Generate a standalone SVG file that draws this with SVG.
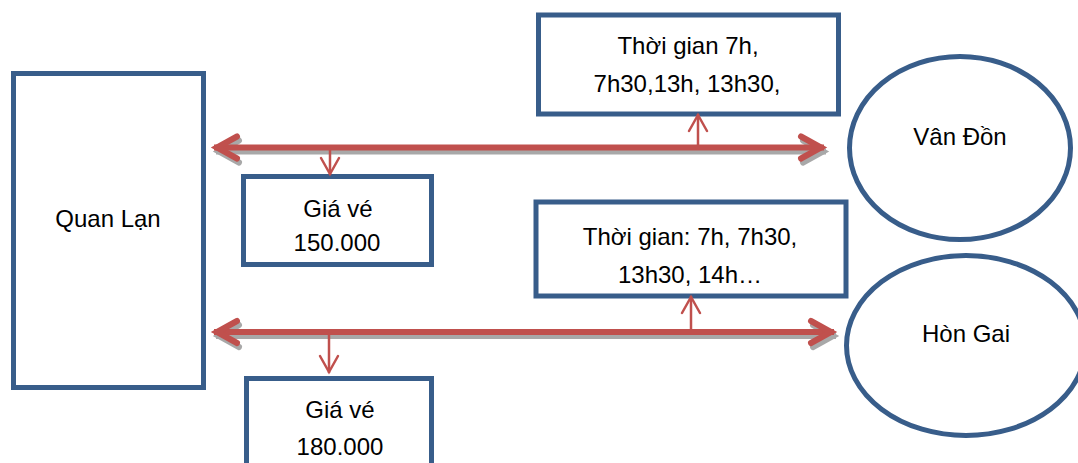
<svg xmlns="http://www.w3.org/2000/svg" width="1078" height="463" viewBox="0 0 1078 463">
<style>
.box{fill:#fff;stroke:#385D8A;stroke-width:5}
.t{font-family:"Liberation Sans",Arial,sans-serif;font-size:24px;fill:#000;text-anchor:middle}
.main{stroke:#C0504D;stroke-width:6;fill:none;marker-start:url(#hr);marker-end:url(#hr)}
.shadow{stroke:#9a9a9a;stroke-width:6;fill:none;marker-start:url(#hg);marker-end:url(#hg);opacity:.85}
.thin{stroke:#C0504D;stroke-width:2.5;fill:none;marker-end:url(#ht)}
</style>
<defs>
<marker id="hr" viewBox="-28 -16 36 32" markerWidth="36" markerHeight="32" refX="0" refY="0" orient="auto-start-reverse" markerUnits="userSpaceOnUse">
<path d="M-23,-11 L-3,0 L-23,11" stroke="#C0504D" stroke-width="6" fill="none" stroke-linecap="round"/>
</marker>
<marker id="hg" viewBox="-28 -16 36 32" markerWidth="36" markerHeight="32" refX="0" refY="0" orient="auto-start-reverse" markerUnits="userSpaceOnUse">
<path d="M-23,-11 L-3,0 L-23,11" stroke="#9a9a9a" stroke-width="6" fill="none" stroke-linecap="round"/>
</marker>
<marker id="ht" viewBox="-20 -12 24 24" markerWidth="24" markerHeight="24" refX="0" refY="0" orient="auto" markerUnits="userSpaceOnUse">
<path d="M-17,-9 L-1,0 L-17,9" stroke="#C0504D" stroke-width="2.5" fill="none" stroke-linecap="round"/>
</marker>
</defs>
<g id="quan-lan">
<rect class="box" x="13.5" y="73.5" width="190" height="314"/>
<text class="t" x="108" y="227">Quan Lạn</text>
</g>
<g id="van-don">
<ellipse class="box" cx="960" cy="148" rx="110.5" ry="91.5"/>
<text class="t" x="960" y="145">Vân Đồn</text>
</g>
<g id="hon-gai">
<ellipse class="box" cx="966" cy="345.5" rx="119.5" ry="90"/>
<text class="t" x="966" y="342">Hòn Gai</text>
</g>
<g id="time-van-don">
<rect class="box" x="538.5" y="15" width="300" height="99"/>
<text class="t" x="688" y="54">Thời gian 7h,</text>
<text class="t" x="687" y="92">7h30,13h, 13h30,</text>
</g>
<g id="price-van-don">
<rect class="box" x="243.5" y="176.5" width="188" height="88"/>
<text class="t" x="338" y="217">Giá vé</text>
<text class="t" x="337" y="251">150.000</text>
</g>
<g id="time-hon-gai">
<rect class="box" x="536" y="202" width="310" height="94"/>
<text class="t" x="690" y="245">Thời gian: 7h, 7h30,</text>
<text class="t" x="690" y="283">13h30, 14h…</text>
</g>
<g id="price-hon-gai">
<rect class="box" x="246.5" y="378.5" width="185" height="100"/>
<text class="t" x="340" y="418">Giá vé</text>
<text class="t" x="340" y="455">180.000</text>
</g>
<g id="connectors">
<g transform="translate(2,4)">
<path class="shadow" d="M214,147.5 L824,147.5"/>
<path class="shadow" d="M214,332 L834,332"/>
</g>
<path class="main" d="M214,147.5 L824,147.5"/>
<path class="main" d="M214,332 L834,332"/>
<path class="thin" d="M330,148 L330,175"/>
<path class="thin" d="M698,147 L698,114"/>
<path class="thin" d="M691,332 L691,296"/>
<path class="thin" d="M329,332 L329,373"/>
</g>
</svg>
